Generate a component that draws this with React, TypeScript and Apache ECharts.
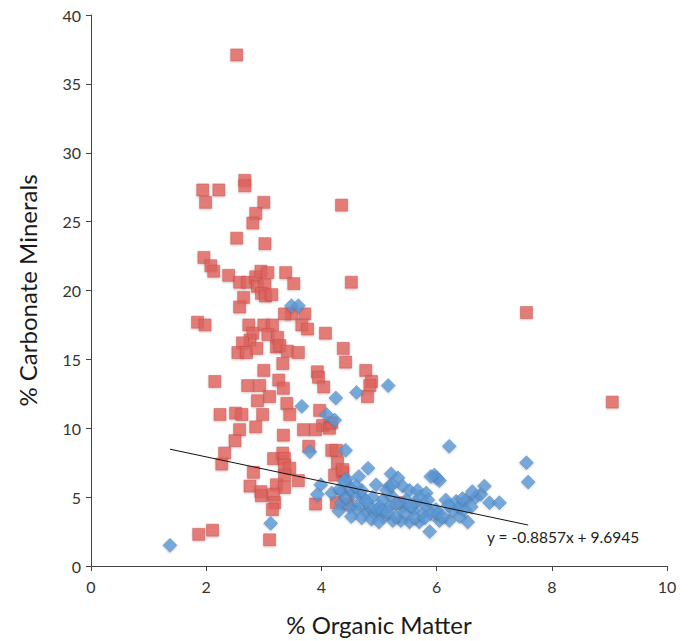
import React, { useEffect, useRef } from "react";
import * as echarts from "echarts";

// Red squares: [% organic matter, % carbonate minerals]
const redOrganic = [2.53,2.67,2.67,1.94,2.22,1.99,3.00,4.35,2.86,2.81,2.53,3.02,1.96,2.08,2.13,2.39,2.58,2.72,2.86,2.95,3.07,3.38,3.52,2.89,3.02,2.96,3.03,3.14,2.65,2.58,3.48,3.36,3.71,4.52,1.85,1.98,2.74,3.00,3.15,3.66,3.76,4.07,4.38,2.81,2.76,2.63,3.07,3.24,3.22,2.55,2.70,2.88,3.28,3.41,3.60,4.42,3.33,3.00,2.15,2.72,2.93,3.26,3.34,3.93,3.95,4.04,3.10,2.89,3.40,3.97,2.24,2.51,2.62,2.98,3.45,4.02,4.14,4.18,2.58,2.86,3.69,3.90,3.34,2.50,3.78,4.18,4.26,2.32,2.27,3.17,3.33,3.36,4.28,3.36,3.45,4.37,2.82,3.36,3.60,4.23,2.76,2.95,2.96,3.22,3.36,3.17,3.19,3.15,3.90,4.26,1.87,2.11,3.10,4.77,4.87,4.84,4.80,7.56,9.05,5.36,4.37,4.45];
const redCarbonate = [37.1,28.0,27.6,27.3,27.3,26.4,26.4,26.2,25.6,24.9,23.8,23.4,22.4,21.8,21.4,21.1,20.6,20.6,21.0,21.4,21.3,21.3,20.5,20.3,20.4,19.8,19.6,19.7,19.5,18.8,18.3,18.3,18.3,20.6,17.7,17.5,17.5,17.5,17.5,17.5,17.2,16.9,15.8,16.9,16.4,16.2,16.8,16.6,15.9,15.5,15.5,15.8,16.0,15.6,15.5,14.8,14.7,14.2,13.4,13.1,13.1,13.5,12.9,14.1,13.7,13.0,12.3,12.0,11.8,11.3,11.0,11.1,11.0,11.0,11.0,10.2,10.0,10.4,9.9,10.1,9.9,9.9,9.5,9.1,8.7,8.4,8.4,8.2,7.4,7.8,8.2,7.8,7.5,7.3,7.1,6.8,6.8,6.6,6.2,6.6,5.8,5.4,5.1,5.9,5.7,5.2,4.6,4.1,4.5,4.6,2.3,2.6,1.9,14.2,13.4,13.1,12.3,18.4,11.9,4.6,7.0,4.5];

// Blue diamonds
const blueOrganic = [1.37,3.12,3.48,3.60,4.25,3.66,4.09,4.23,3.80,4.42,3.99,3.93,4.18,4.35,4.35,4.61,5.16,6.22,7.56,7.59,4.81,4.65,5.21,5.33,5.18,4.95,5.41,5.53,5.67,5.82,5.96,6.05,6.16,6.34,6.51,6.68,6.77,6.83,6.92,7.09,6.60,6.54,6.40,6.22,6.05,5.88,5.70,5.53,5.38,5.24,5.07,4.92,4.78,4.61,4.49,4.43,4.55,4.72,4.89,5.07,5.24,5.47,5.64,5.82,5.99,5.76,5.59,5.41,5.18,5.01,4.84,4.66,5.90,6.02,6.11,6.28,6.40,6.48,4.44,4.32,4.52,4.70,5.13,5.23,4.78,4.96,5.06,5.30,4.30,4.52,4.70,4.87,5.00,5.15,5.30,5.45,5.62,5.80,4.60,4.40,5.55,5.70,5.85,6.20,6.45,6.62,6.00,5.90];
const blueCarbonate = [1.5,3.1,18.9,18.9,12.2,11.6,11.0,10.6,8.3,8.4,5.9,5.2,5.3,5.4,4.6,12.6,13.1,8.7,7.5,6.1,7.1,6.5,6.7,6.4,5.8,5.9,5.8,5.5,5.5,5.3,6.6,6.2,4.8,4.7,4.8,5.0,5.2,5.8,4.6,4.6,4.3,3.2,3.6,3.3,3.3,2.5,3.2,3.2,3.3,3.3,3.6,3.8,3.9,4.1,4.3,5.0,5.3,5.0,5.0,4.8,5.0,4.8,4.6,4.3,4.1,3.8,4.1,4.3,4.3,4.3,4.3,4.6,3.8,3.8,3.6,4.1,4.3,4.1,6.3,5.6,5.6,5.5,5.5,5.9,4.7,4.1,4.0,4.5,4.0,3.6,3.5,3.4,3.2,3.9,3.6,3.9,3.5,3.5,5.8,6.2,4.4,5.0,4.8,4.4,4.9,5.4,6.4,6.5];

// Linear trend line (blue series): y = slope * x + intercept
const trendSlope = -0.8857;
const trendIntercept = 9.6945;
const trendLabel = "y = -0.8857x + 9.6945";

const xTicks = [0, 2, 4, 6, 8, 10];
const yTicks = [0, 5, 10, 15, 20, 25, 30, 35, 40];

const FONT = "Lato, 'Open Sans', sans-serif";

export default function App() {
  const ref = useRef<HTMLDivElement>(null);

  useEffect(() => {
    if (!ref.current) return;
    const chart = echarts.init(ref.current, null, { renderer: "svg" });

    const redData = redOrganic.map((x, i) => [x, redCarbonate[i]]);
    const blueData = blueOrganic.map((x, i) => [x, blueCarbonate[i]]);
    const xMin = Math.min(...blueOrganic);
    const xMax = Math.max(...blueOrganic);
    const trendData = [
      [xMin, trendSlope * xMin + trendIntercept],
      [xMax, trendSlope * xMax + trendIntercept],
    ];

    chart.setOption({
      animation: false,
      backgroundColor: "#ffffff",
      grid: { left: 91, right: 32, top: 15, bottom: 75, containLabel: false },
      xAxis: {
        type: "value",
        min: xTicks[0],
        max: xTicks[xTicks.length - 1],
        interval: 2,
        name: "% Organic Matter",
        nameLocation: "middle",
        nameGap: 46,
        nameTextStyle: { fontFamily: FONT, fontSize: 24, color: "#1a1a1a" },
        axisLine: { show: true, lineStyle: { color: "#444", width: 1 } },
        axisTick: { show: true, inside: false, length: 5, lineStyle: { color: "#444" } },
        axisLabel: { fontFamily: FONT, fontSize: 16, color: "#333", margin: 12 },
        splitLine: { show: false },
      },
      yAxis: {
        type: "value",
        min: yTicks[0],
        max: yTicks[yTicks.length - 1],
        interval: 5,
        name: "% Carbonate Minerals",
        nameLocation: "middle",
        nameGap: 52,
        nameRotate: 90,
        nameTextStyle: { fontFamily: FONT, fontSize: 24, color: "#1a1a1a" },
        axisLine: { show: true, lineStyle: { color: "#444", width: 1 } },
        axisTick: { show: true, inside: false, length: 5, lineStyle: { color: "#444" } },
        axisLabel: { fontFamily: FONT, fontSize: 16, color: "#333", margin: 10 },
        splitLine: { show: false },
      },
      series: [
        {
          type: "scatter",
          name: "red",
          symbol: "rect",
          symbolSize: 12,
          data: redData,
          itemStyle: {
            color: "#e2645f",
            borderColor: "#c94c48",
            borderWidth: 0.6,
            shadowBlur: 2,
            shadowColor: "rgba(0,0,0,0.25)",
            shadowOffsetY: 1,
          },
          z: 2,
        },
        {
          type: "scatter",
          name: "blue",
          symbol: "diamond",
          symbolSize: 14,
          data: blueData,
          itemStyle: {
            color: "#5d98d6",
            borderColor: "#4a84c2",
            borderWidth: 0.6,
            shadowBlur: 2,
            shadowColor: "rgba(0,0,0,0.25)",
            shadowOffsetY: 1,
          },
          z: 3,
        },
        {
          type: "line",
          name: "trend",
          data: trendData,
          symbol: "none",
          lineStyle: { color: "#111", width: 1 },
          silent: true,
          z: 4,
        },
      ],
      graphic: [
        {
          type: "text",
          left: 487,
          top: 529,
          style: {
            text: trendLabel,
            fontFamily: FONT,
            fontSize: 15.5,
            fill: "#222",
          },
        },
      ],
    });

    return () => chart.dispose();
  }, []);

  return (
    <div
      ref={ref}
      style={{ position: "fixed", left: 0, top: 0, width: 699, height: 641 }}
    />
  );
}
